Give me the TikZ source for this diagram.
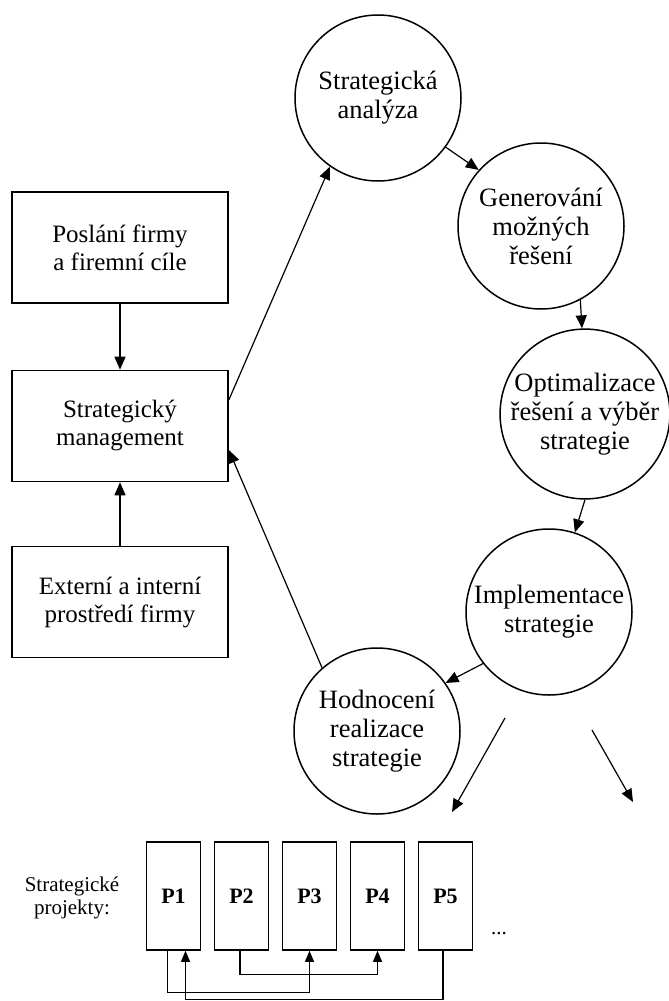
\documentclass[tikz,border=0pt]{standalone}
\usepackage{fontspec}
\setmainfont{Liberation Serif}
\usetikzlibrary{arrows.meta}
\begin{document}
\begin{tikzpicture}[x=1pt,y=-1pt,
  every node/.style={font=\fontsize{25}{28}\selectfont, align=center},
  stage/.style={draw, line width=1.5pt, circle, minimum size=166pt, inner sep=0pt,
    font=\fontsize{26.5}{29}\selectfont},
  frame/.style={draw, line width=1.6pt, minimum width=216pt, minimum height=111pt, inner sep=0pt},
  proj/.style={draw, line width=1.6pt, minimum width=54pt, minimum height=108pt, inner sep=0pt,
    font=\fontsize{22}{24}\selectfont\bfseries},
  flow/.style={line width=1.2pt, -{Triangle[length=13pt,width=11pt]}},
  link/.style={line width=1.1pt, -{Triangle[length=11pt,width=9pt]}}
]
\useasboundingbox (0,0) rectangle (669,1001);

% left column
\node[frame] (mise) at (120,247.5) {Poslání firmy\\a firemní cíle};
\node[frame] (sm)   at (120,426)   {Strategický\\management};
\node[frame] (env)  at (120,602)   {Externí a interní\\prostředí firmy};

% strategy cycle
\node[stage] (sa)  at (378,98)  {Strategická\\analýza};
\node[stage] (gen) at (541,226) {Generování\\možných\\řešení};
\node[stage] (opt) at (585,414) {Optimalizace\\řešení a výběr\\strategie};
\node[stage] (imp) at (549,612) {Implementace\\strategie};
\node[stage] (hod) at (377,731) {Hodnocení\\realizace\\strategie};

\draw[flow] (mise) -- (sm);
\draw[flow] (env) -- (sm);
\draw[flow] ([yshift=26pt]sm.east) -- (sa.235);
\draw[flow] (sa.-36) -- (gen.138);
\draw[flow] (gen.-62) -- (opt.92);
\draw[flow] (opt.270) -- (imp.72);
\draw[flow] (imp.218) -- (hod.35);
\draw[flow] (hod.131) -- ([yshift=-24pt]sm.east);

% arrows towards the projects
\coordinate (d1s) at (505,718);
\coordinate (d1e) at (452,812);
\coordinate (d2s) at (592,730);
\coordinate (d2e) at (633,802);
\draw[flow] (d1s) -- (d1e);
\draw[flow] (d2s) -- (d2e);

% projects
\node[font=\fontsize{21}{23}\selectfont] (lbl) at (72,898) {Strategické\\projekty:};
\foreach \i in {1,...,5} {
  \node[proj] (p\i) at ({173.5+68*(\i-1)},896) {P\i};
}
\node[font=\fontsize{21}{23}\selectfont] (dots) at (499,934) {...};

\draw[link] ([xshift=-6pt]p1.south) -- ++(0,42) -| (p3.south);
\draw[link] ([xshift=-1.5pt]p2.south) -- ++(0,24) -| (p4.south);
\draw[link] ([xshift=-2.5pt]p5.south) -- ++(0,48.5) -| ([xshift=12pt]p1.south);
\end{tikzpicture}
\end{document}
